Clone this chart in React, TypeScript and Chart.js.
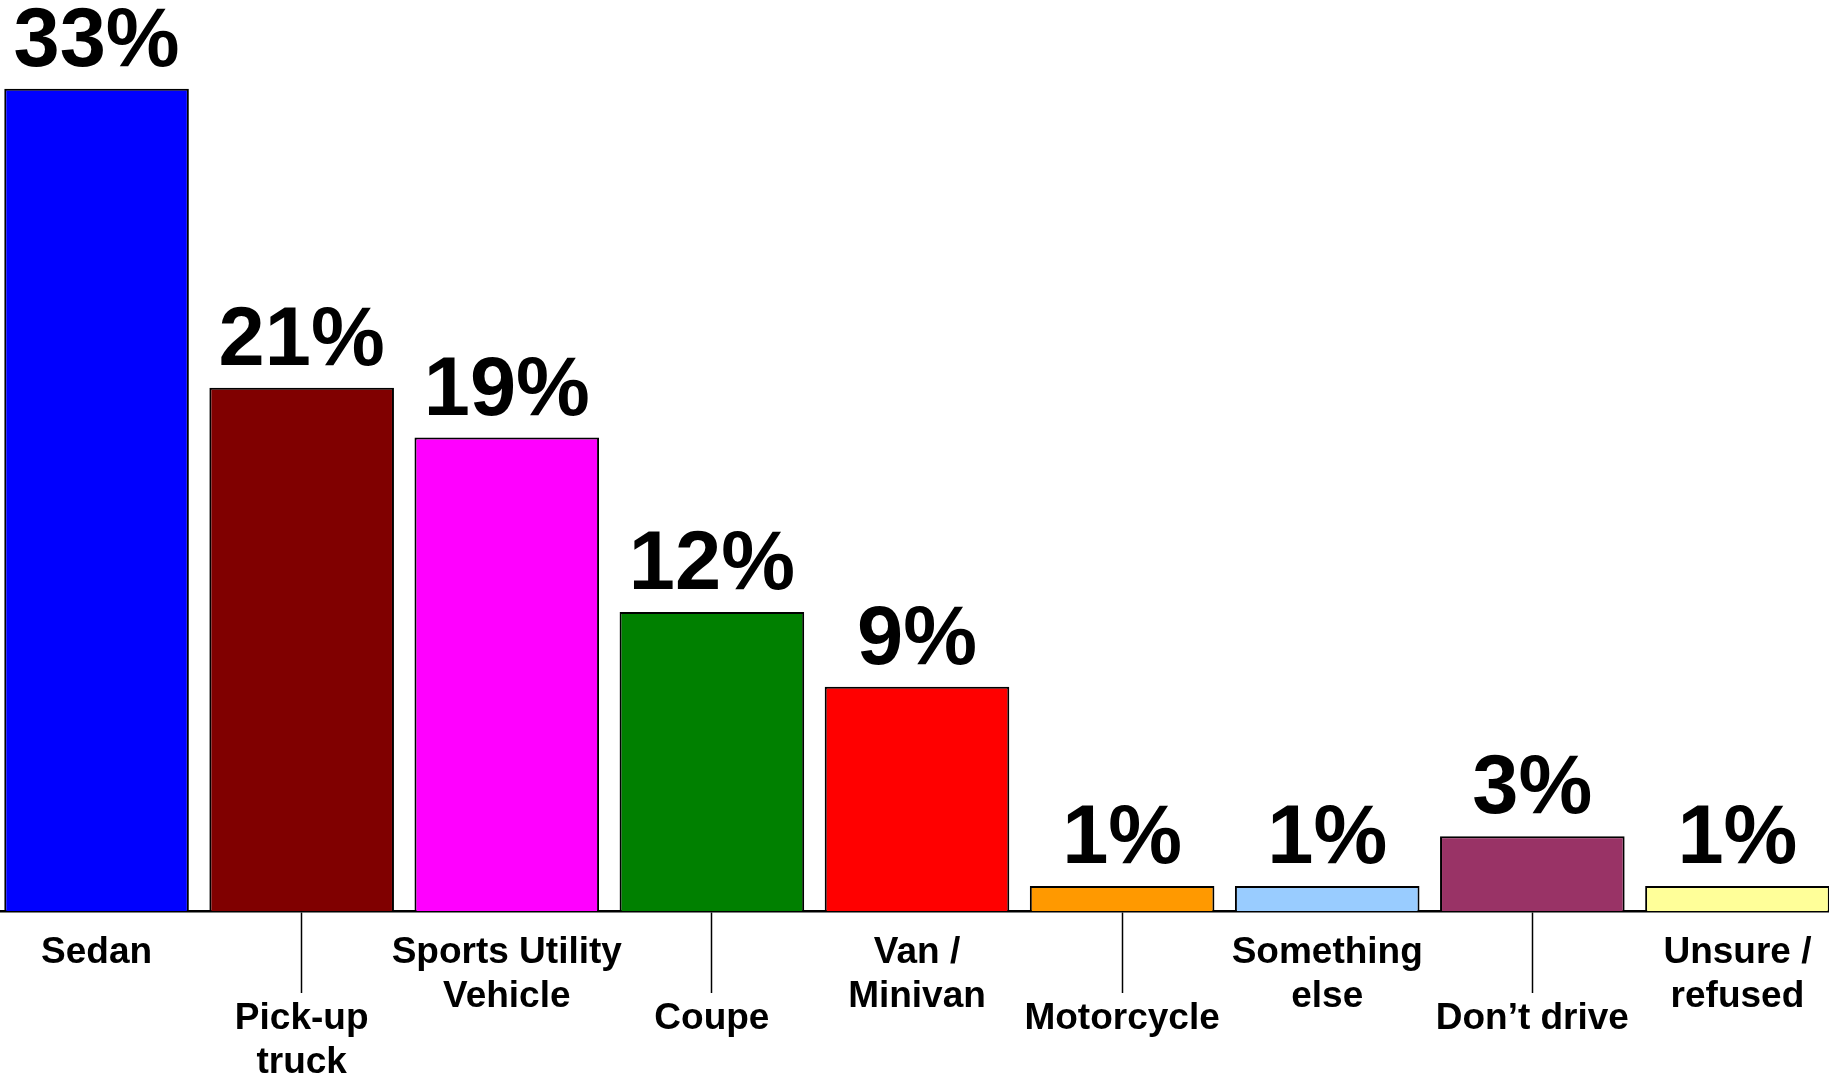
import React, { useEffect, useRef } from "react";
import { Chart, registerables } from "chart.js";

Chart.register(...registerables);

const categories: string[][] = [
  ["Sedan"],
  ["Pick-up", "truck"],
  ["Sports Utility", "Vehicle"],
  ["Coupe"],
  ["Van /", "Minivan"],
  ["Motorcycle"],
  ["Something", "else"],
  ["Don\u2019t drive"],
  ["Unsure /", "refused"],
];

const values: number[] = [33, 21, 19, 12, 9, 1, 1, 3, 1];

const barColors: string[] = [
  "#0000FF",
  "#800000",
  "#FF00FF",
  "#008000",
  "#FF0000",
  "#FF9900",
  "#99CCFF",
  "#993366",
  "#FFFF99",
];

// Staggered tick labels: upper-row labels are padded to 5 lines, lower-row labels to 2,
// so that centred cross-alignment drops the lower row by 1.5 line heights.
const tickLabels: string[][] = categories.map((c, i) => {
  const target = i % 2 === 0 ? 5 : 2;
  const out = c.slice();
  while (out.length < target) out.push("");
  return out;
});

const FONT = "'Liberation Sans', Arial, Helvetica, sans-serif";

const valueLabelPlugin = {
  id: "valueLabels",
  afterDatasetsDraw(chart: any) {
    const ctx = chart.ctx;
    const meta = chart.getDatasetMeta(0);
    ctx.save();
    ctx.fillStyle = "#000";
    ctx.font = `bold 83px ${FONT}`;
    ctx.textAlign = "center";
    ctx.textBaseline = "alphabetic";
    meta.data.forEach((bar: any, i: number) => {
      ctx.fillText(`${values[i]}%`, bar.x, bar.y - 23);
    });
    ctx.restore();
  },
};

export default function App() {
  const canvasRef = useRef<HTMLCanvasElement | null>(null);

  useEffect(() => {
    document.body.style.margin = "0";
    document.body.style.overflow = "hidden";
    const canvas = canvasRef.current;
    if (!canvas) return;
    const chart = new Chart(canvas, {
      type: "bar",
      data: {
        labels: tickLabels as any,
        datasets: [
          {
            data: values,
            backgroundColor: barColors,
            borderColor: "#000",
            borderWidth: 2,
            borderSkipped: "start",
            categoryPercentage: 1,
            barPercentage: 0.9,
          },
        ],
      },
      options: {
        animation: false,
        responsive: true,
        maintainAspectRatio: false,
        layout: { padding: 0 },
        plugins: {
          legend: { display: false },
          tooltip: { enabled: false },
        },
        scales: {
          y: {
            display: false,
            min: 0,
            max: 36.56,
          },
          x: {
            type: "category",
            position: "bottom",
            offset: true,
            border: { display: true, color: "#000", width: 2.5 },
            grid: {
              display: true,
              drawOnChartArea: false,
              drawTicks: true,
              offset: false,
              tickLength: 82,
              tickWidth: 1.5,
              color: "transparent",
              tickColor: (ctx: any) =>
                ctx.index % 2 === 1 ? "#000" : "transparent",
            },
            ticks: {
              autoSkip: false,
              maxRotation: 0,
              minRotation: 0,
              crossAlign: "center",
              padding: -40,
              color: "#000",
              font: { family: FONT, size: 37, weight: "bold", lineHeight: "44px" },
            },
            afterFit: (scale: any) => {
              scale.height = 162;
            },
          },
        },
      },
      plugins: [valueLabelPlugin],
    });
    return () => chart.destroy();
  }, []);

  return (
    <div
      style={{
        position: "fixed",
        left: -6,
        top: 0,
        width: 1846,
        height: 1073,
        background: "#fff",
      }}
    >
      <canvas ref={canvasRef} />
    </div>
  );
}
